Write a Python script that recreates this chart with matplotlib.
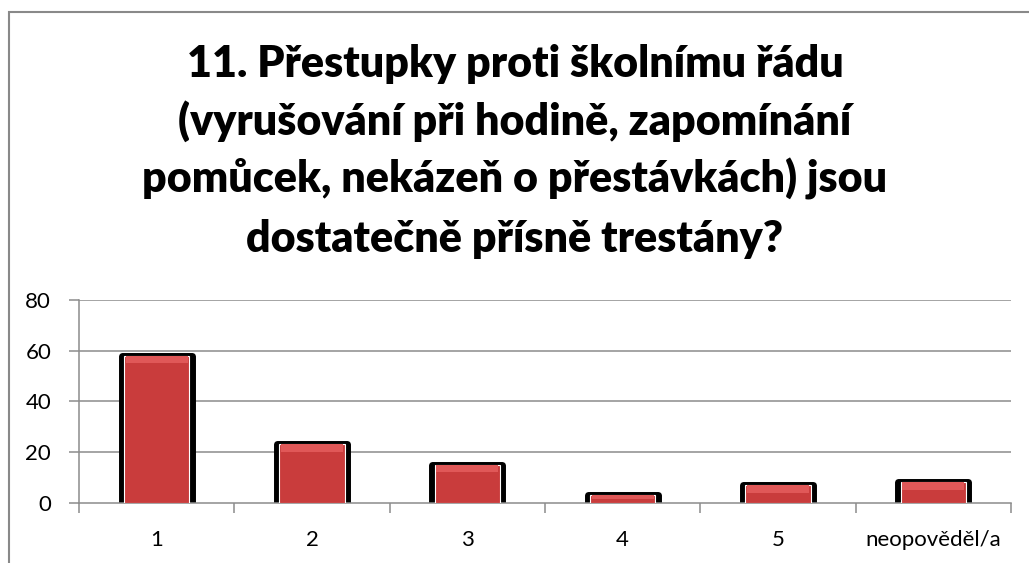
import numpy as np
import matplotlib
matplotlib.use('Agg')
import matplotlib.pyplot as plt
from matplotlib.patches import Rectangle

categories = ['1', '2', '3', '4', '5', 'neopověděl/a']
values = [58, 23, 15, 3, 7, 8]
yticks = [0, 20, 40, 60, 80]
title_lines = ['11. Přestupky proti školnímu řádu',
               '(vyrušování při hodině, zapomínání',
               'pomůcek, nekázeň o přestávkách) jsou',
               'dostatečně přísně trestány?']

plt.rcParams['font.family'] = ['Lato', 'DejaVu Sans']

W, H = 1029, 563
fig = plt.figure(figsize=(W / 100, H / 100), dpi=100)
fig.patch.set_facecolor('white')

# outer chart frame (right / bottom run off the image)
fig.patches.append(Rectangle((9 / W, -0.1), 2, (H - 12) / H + 0.1, transform=fig.transFigure,
                             fill=False, edgecolor='#898989', lw=1.5))

# title, one line at a time
baselines = [77, 135, 193, 252]
for line, yb in zip(title_lines, baselines):
    fig.text(515 / W, 1 - yb / H, line, ha='center', va='baseline',
             fontsize=31, fontweight='heavy', color='black')

ax = fig.add_axes([79 / W, 1 - 502.7 / H, (1011 - 79) / W, (502.7 - 300) / H])
x = np.arange(len(categories))
ax.set_xlim(-0.5, len(categories) - 0.5)
ax.set_ylim(0, 80)

for y in yticks[1:]:
    ax.axhline(y, color='#8c8c8c', lw=1.1, zorder=0)

# black shadow, red bar, lighter bevel on top
ax.bar(x, values, width=0.45, color='black', edgecolor='black', lw=5, joinstyle='round', zorder=2)
ax.bar(x, values, width=0.42, color='#c93c3c', edgecolor='white', lw=0.8, zorder=3)
bevel = [min(3.0, v * 0.5) for v in values]
ax.bar(x, bevel, bottom=np.array(values) - np.array(bevel), width=0.40,
       color='#e05858', lw=0, zorder=4)

for s in ['top', 'right']:
    ax.spines[s].set_visible(False)
for s in ['left', 'bottom']:
    ax.spines[s].set_color('#8c8c8c')
    ax.spines[s].set_linewidth(1.1)

ax.set_yticks(yticks)
ax.tick_params(axis='y', length=7, width=1.1, color='#8c8c8c', labelsize=16, pad=13)
ax.set_xticks(x)
ax.set_xticklabels(categories)
ax.set_xticks(np.arange(len(categories) + 1) - 0.5, minor=True)
ax.tick_params(axis='x', which='major', length=0, labelsize=16, pad=20)
ax.tick_params(axis='x', which='minor', length=7, width=1.1, color='#8c8c8c')

fig.savefig('out.png', dpi=100)
